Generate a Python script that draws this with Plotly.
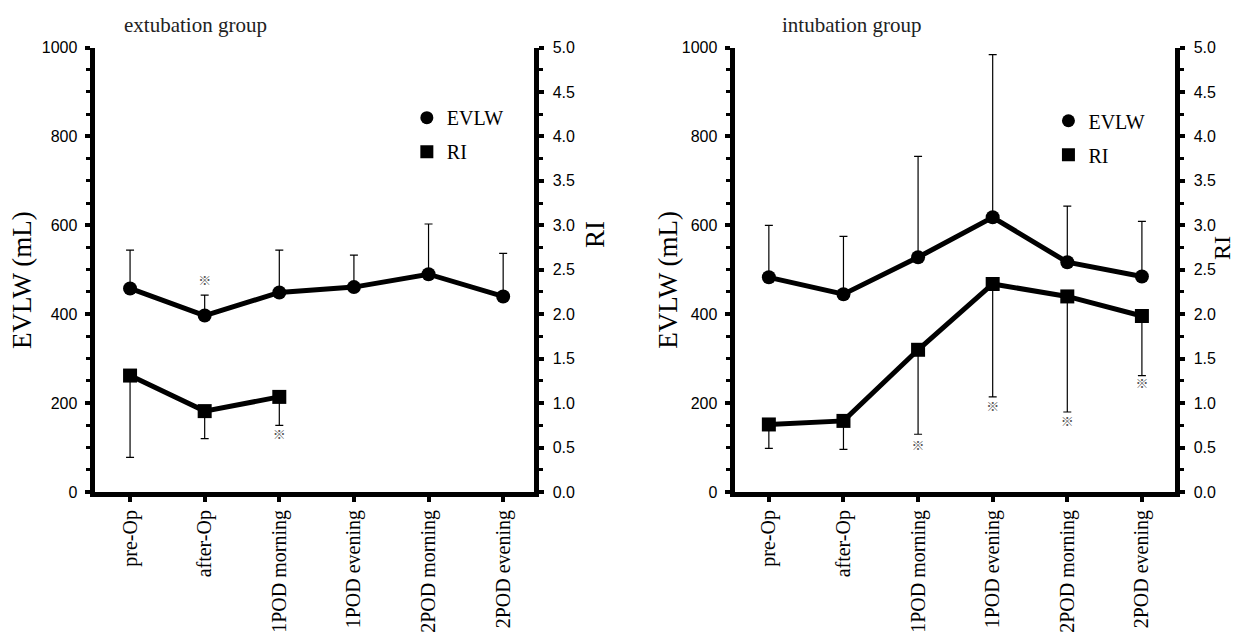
import plotly.graph_objects as go

# ---------------- data ----------------
categories = ["pre-Op", "after-Op", "1POD morning", "1POD evening", "2POD morning", "2POD evening"]

# extubation group
ext_evlw = [458, 397, 449, 461, 490, 440]
ext_evlw_upper = [544, 443, 544, 533, 603, 537]
ext_ri = [1.31, 0.91, 1.07, None, None, None]
ext_ri_lower = [0.39, 0.60, 0.75, None, None, None]
ext_evlw_star = [None, 474, None, None, None, None]
ext_ri_star = [None, None, 0.63, None, None, None]

# intubation group
int_evlw = [483, 445, 528, 618, 517, 485]
int_evlw_upper = [600, 575, 755, 984, 643, 609]
int_ri = [0.76, 0.80, 1.60, 2.34, 2.20, 1.98]
int_ri_lower = [0.49, 0.48, 0.65, 1.07, 0.90, 1.31]
int_evlw_star = [None, None, None, None, None, None]
int_ri_star = [None, None, 0.51, 0.95, 0.78, 1.21]

evlw_ticks = [0, 200, 400, 600, 800, 1000]
ri_ticks = [0.0, 0.5, 1.0, 1.5, 2.0, 2.5, 3.0, 3.5, 4.0, 4.5, 5.0]

SERIF = "Liberation Serif"
SANS = "Liberation Sans"
STAR_FONT = "Noto Sans CJK JP"

W, H = 1231, 642 - 16

fig = go.Figure()


def diff(a, b):
    return [None if (p is None or q is None) else round(p - q, 4) for p, q in zip(a, b)]


def add_panel(xa, ya, ya2, evlw, evlw_up, ri, ri_low, evlw_star, ri_star, legend):
    # EVLW line with upward error bars
    fig.add_trace(go.Scatter(
        x=categories, y=evlw, mode="lines+markers", xaxis=xa, yaxis=ya,
        line=dict(color="black", width=5),
        marker=dict(symbol="circle", size=14, color="black"),
        error_y=dict(type="data", symmetric=False, array=diff(evlw_up, evlw),
                     arrayminus=[0] * len(evlw), color="black", thickness=1.2, width=4),
        showlegend=False, cliponaxis=False))
    # RI line with downward error bars
    fig.add_trace(go.Scatter(
        x=categories, y=ri, mode="lines+markers", xaxis=xa, yaxis=ya2,
        line=dict(color="black", width=5),
        marker=dict(symbol="square", size=14, color="black"),
        error_y=dict(type="data", symmetric=False, array=[0] * len(ri),
                     arrayminus=diff(ri, ri_low), color="black", thickness=1.2, width=4),
        showlegend=False, cliponaxis=False, connectgaps=False))
    # significance marks
    fig.add_trace(go.Scatter(
        x=categories, y=evlw_star, mode="text", text=["※"] * len(categories),
        xaxis=xa, yaxis=ya, textfont=dict(family=STAR_FONT, size=13, color="#555555"),
        showlegend=False, hoverinfo="skip"))
    fig.add_trace(go.Scatter(
        x=categories, y=ri_star, mode="text", text=["※"] * len(categories),
        xaxis=xa, yaxis=ya2, textfont=dict(family=STAR_FONT, size=13, color="#555555"),
        showlegend=False, hoverinfo="skip"))
    # legend entries (marker only)
    fig.add_trace(go.Scatter(
        x=[None], y=[None], mode="markers", name="EVLW", xaxis=xa, yaxis=ya,
        marker=dict(symbol="circle", size=13, color="black"),
        legend=legend, legendgroup=legend + "a", showlegend=True))
    fig.add_trace(go.Scatter(
        x=[None], y=[None], mode="markers", name="RI", xaxis=xa, yaxis=ya,
        marker=dict(symbol="square", size=13, color="black"),
        legend=legend, legendgroup=legend + "b", showlegend=True))


add_panel("x", "y", "y2", ext_evlw, ext_evlw_upper, ext_ri, ext_ri_lower,
          ext_evlw_star, ext_ri_star, "legend")
add_panel("x2", "y3", "y4", int_evlw, int_evlw_upper, int_ri, int_ri_lower,
          int_evlw_star, int_ri_star, "legend2")

ydom = [0.2268, 0.9369]

xcommon = dict(
    type="category", categoryorder="array", categoryarray=categories,
    showline=True, linewidth=5, linecolor="black", mirror=False,
    ticks="outside", ticklen=5, tickwidth=4, tickcolor="black",
    tickangle=-90, tickfont=dict(family=SERIF, size=20, color="black"),
    showgrid=False, zeroline=False, automargin=False,
)
yleft = dict(
    range=[0, 1000], tickvals=evlw_ticks, showline=True, linewidth=5, linecolor="black",
    ticks="outside", ticklen=5, tickwidth=4, tickcolor="black",
    minor=dict(dtick=50, ticks="outside", ticklen=4, tickwidth=3, tickcolor="black"),
    tickfont=dict(family=SANS, size=16, color="black"), ticklabelstandoff=4,
    showgrid=False, zeroline=False, automargin=False, domain=ydom,
)
yright = dict(
    range=[0, 5], tickvals=ri_ticks, tickformat=".1f", side="right",
    showline=True, linewidth=5, linecolor="black",
    ticks="outside", ticklen=5, tickwidth=4, tickcolor="black",
    minor=dict(dtick=0.25, ticks="outside", ticklen=4, tickwidth=3, tickcolor="black"),
    tickfont=dict(family=SANS, size=16, color="black"), ticklabelstandoff=5,
    showgrid=False, zeroline=False, automargin=False,
)

fig.update_layout(
    width=W, height=H,
    margin=dict(l=0, r=0, t=0, b=0),
    paper_bgcolor="white", plot_bgcolor="white",
    xaxis=dict(xcommon, domain=[0.0703, 0.4277], range=[-0.476, 5.42], anchor="y"),
    xaxis2=dict(xcommon, domain=[0.5902, 0.9484], range=[-0.46, 5.45], anchor="y3"),
    yaxis=dict(yleft, anchor="x"),
    yaxis2=dict(yright, anchor="x", overlaying="y"),
    yaxis3=dict(yleft, anchor="x2"),
    yaxis4=dict(yright, anchor="x2", overlaying="y3"),
    legend=dict(x=0.3240, y=0.8560, xanchor="left", yanchor="top",
                font=dict(family=SERIF, size=20, color="black"),
                bgcolor="rgba(0,0,0,0)", tracegroupgap=5, itemwidth=30),
    legend2=dict(x=0.8452, y=0.8510, xanchor="left", yanchor="top",
                 font=dict(family=SERIF, size=20, color="black"),
                 bgcolor="rgba(0,0,0,0)", tracegroupgap=5, itemwidth=30),
    showlegend=True,
)

ann = [
    dict(text="extubation group", x=0.0926, y=0.9728, xanchor="left", yanchor="middle",
         font=dict(family=SERIF, size=21, color="#222222")),
    dict(text="intubation group", x=0.6271, y=0.9728, xanchor="left", yanchor="middle",
         font=dict(family=SERIF, size=21, color="#222222")),
    dict(text="EVLW (mL)", x=0.0114, y=0.5655, textangle=-90, xanchor="center", yanchor="middle",
         font=dict(family=SERIF, size=27, color="black")),
    dict(text="EVLW (mL)", x=0.536, y=0.5655, textangle=-90, xanchor="center", yanchor="middle",
         font=dict(family=SERIF, size=27, color="black")),
    dict(text="RI", x=0.4769, y=0.6374, textangle=-90, xanchor="center", yanchor="middle",
         font=dict(family=SERIF, size=27, color="black")),
    dict(text="RI", x=0.9862, y=0.6166, textangle=-90, xanchor="center", yanchor="middle",
         font=dict(family=SERIF, size=24, color="black")),
]
for a in ann:
    a.update(xref="paper", yref="paper", showarrow=False)
fig.update_layout(annotations=ann)

fig.write_html("out.html")
